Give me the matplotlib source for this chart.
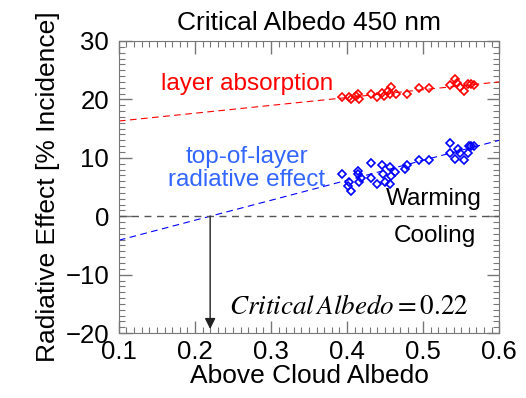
import numpy as np
import matplotlib
matplotlib.use('Agg')
import matplotlib.pyplot as plt
from matplotlib.ticker import MultipleLocator

plt.rcParams['font.family'] = ['Liberation Sans', 'DejaVu Sans']
plt.rcParams['mathtext.fontset'] = 'stix'

# data
absorb_x = [0.394, 0.403, 0.405, 0.415, 0.416, 0.432, 0.440, 0.446, 0.449, 0.454,
            0.458, 0.457, 0.464, 0.479, 0.494, 0.508, 0.535, 0.542, 0.545, 0.548,
            0.554, 0.559, 0.563, 0.567, 0.412]
absorb_y = [20.4, 20.4, 20.1, 20.9, 20.1, 20.9, 20.4, 21.1, 20.6, 21.5,
            22.1, 20.9, 20.9, 20.9, 22.0, 21.9, 22.5, 23.5, 22.8, 22.1,
            21.5, 22.6, 22.6, 22.5, 20.5]

toa_x = [0.394, 0.403, 0.405, 0.401, 0.415, 0.416, 0.418, 0.414, 0.432, 0.432,
         0.440, 0.446, 0.447, 0.450, 0.456, 0.458, 0.457, 0.463, 0.476, 0.479,
         0.494, 0.508, 0.535, 0.536, 0.542, 0.546, 0.548, 0.554, 0.559, 0.560,
         0.563, 0.567]
toa_y = [7.2, 5.9, 4.3, 5.2, 7.8, 5.9, 6.5, 7.2, 9.1, 6.5,
         5.5, 8.7, 7.2, 5.9, 8.4, 6.9, 5.5, 7.6, 8.1, 8.7,
         9.7, 9.7, 10.9, 12.5, 9.8, 11.5, 10.8, 9.7, 10.8, 12.0,
         12.1, 12.0]

# fitted lines (value at albedo 0.1, slope)
absorb_fit = (16.3, 13.4)
toa_fit = (-4.1, 34.2)
critical_albedo = 0.22

fig = plt.figure(figsize=(5.26, 3.98), dpi=100)
ax = fig.add_axes([0.226, 0.163, 0.723, 0.734])

xx = np.array([0.1, 0.6])
ax.plot(xx, absorb_fit[0] + absorb_fit[1] * (xx - 0.1), color='red', ls=(0, (6, 4)), lw=0.8)
ax.plot(xx, toa_fit[0] + toa_fit[1] * (xx - 0.1), color='blue', ls=(0, (6, 4)), lw=0.8)
ax.axhline(0, color='#555555', ls=(0, (5, 4)), lw=1.0)

ax.plot(absorb_x, absorb_y, 'D', mfc='none', mec='red', ms=4.2, mew=1.2)
ax.plot(toa_x, toa_y, 'D', mfc='none', mec='blue', ms=4.2, mew=1.2)

ax.annotate('', xy=(critical_albedo, -19.3), xytext=(critical_albedo, 0),
            arrowprops=dict(arrowstyle='-|>', color='#222222', lw=1.0,
                            mutation_scale=16, shrinkA=0, shrinkB=0))

ax.text(0.268, 22.6, 'layer absorption', color='red', fontsize=17.5, ha='center', va='center')
ax.text(0.268, 8.2, 'top-of-layer\nradiative effect', color='#3366ff', fontsize=17.5,
        ha='center', va='center', linespacing=1.05)
ax.text(0.451, 2.9, 'Warming', fontsize=17.5, va='center')
ax.text(0.462, -3.3, 'Cooling', fontsize=17.5, va='center')
ax.text(0.245, -15.6, r'$Critical\,Albedo = \mathrm{0.22}$', fontsize=19.5, va='center')

ax.set_xlim(0.1, 0.6)
ax.set_ylim(-20, 30)
ax.xaxis.set_major_locator(MultipleLocator(0.1))
ax.xaxis.set_minor_locator(MultipleLocator(0.01))
ax.yaxis.set_major_locator(MultipleLocator(10))
ax.yaxis.set_minor_locator(MultipleLocator(1))
ax.tick_params(which='both', direction='in', top=True, right=True, color='#777777')
ax.tick_params(which='major', length=9, width=1, labelsize=18.5)
ax.tick_params(axis='y', which='major', pad=7)
ax.tick_params(axis='x', which='major', pad=5)
ax.tick_params(which='minor', length=4, width=0.8)
for s in ax.spines.values():
    s.set_color('#777777')

ax.set_title('Critical Albedo 450 nm', fontsize=19, pad=8)
ax.set_xlabel('Above Cloud Albedo', fontsize=19, labelpad=0)
ax.set_ylabel('Radiative Effect [% Incidence]', fontsize=19, labelpad=4)

fig.savefig('out.png', dpi=100)
